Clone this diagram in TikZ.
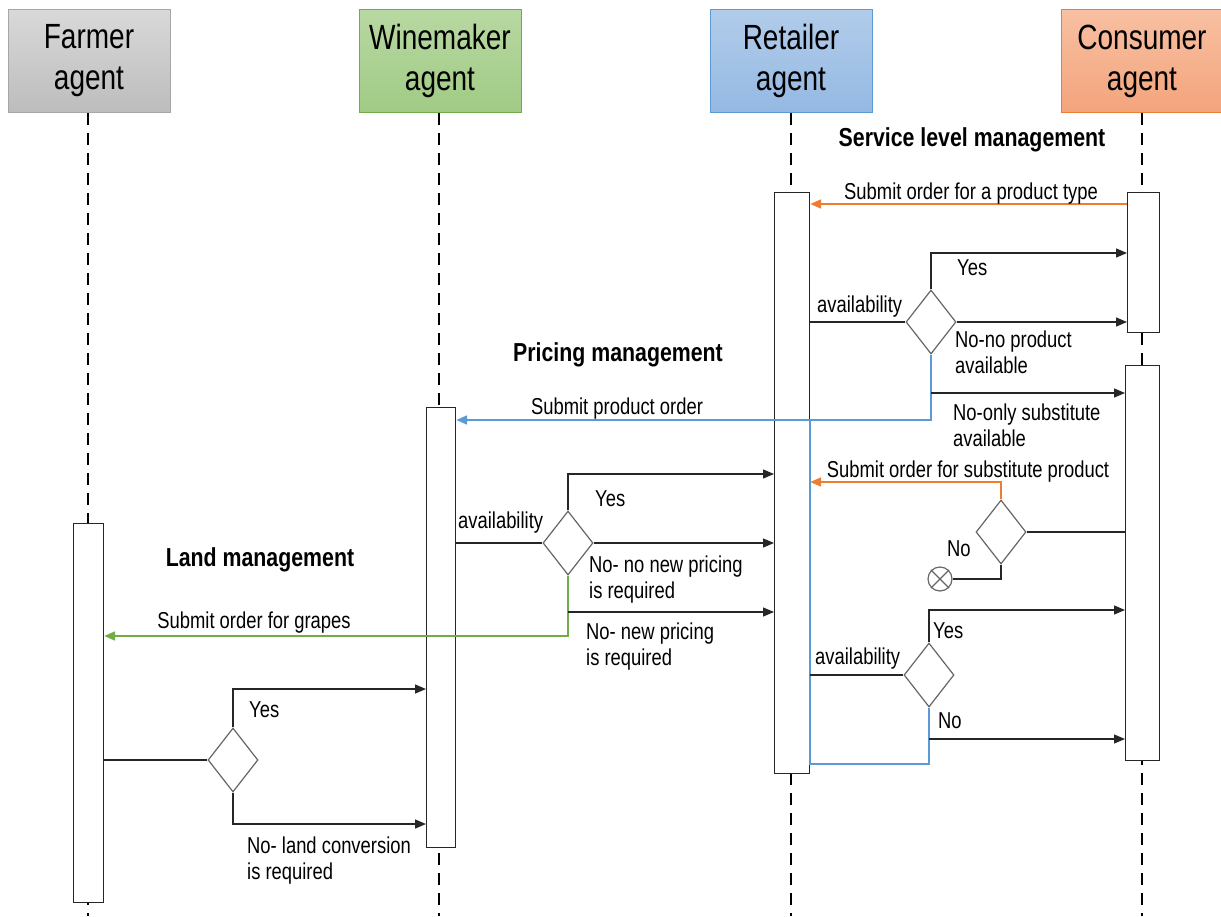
\documentclass[tikz,border=0pt]{standalone}
\usepackage{fontspec}
\setmainfont{Liberation Sans}
\newfontfamily\nf[FakeStretch=0.8]{Liberation Sans}
\newfontfamily\tf[FakeStretch=0.82]{Liberation Sans}
\usetikzlibrary{arrows.meta,shapes.geometric}
\definecolor{ogr}{HTML}{ED7D31}
\definecolor{bgr}{HTML}{5B9BD5}
\definecolor{ggr}{HTML}{70AD47}
\definecolor{dgray}{HTML}{666666}
\tikzset{
  hdr/.style={draw, line width=1pt, minimum width=162pt, minimum height=103pt, inner sep=0pt,
    align=center, font=\nf\fontsize{35pt}{41pt}\selectfont},
  life/.style={line width=1.8pt, dash pattern=on 12pt off 8pt},
  act/.style={draw=black!85, line width=1.2pt, fill=white, inner sep=0pt, anchor=north west},
  dec/.style={diamond, draw=dgray, line width=1.2pt, fill=white, minimum width=50pt, minimum height=64pt, inner sep=0pt},
  lbl/.style={inner sep=0pt, font=\nf\fontsize{23pt}{26pt}\selectfont, align=left},
  ttl/.style={inner sep=0pt, font=\tf\bfseries\fontsize{26pt}{30pt}\selectfont},
  ln/.style={line width=1.3pt, draw=black!85},
  msg/.style={ln, -{Triangle[length=11pt,width=9pt]}},
  omsg/.style={line width=2pt, draw=ogr, -{Triangle[length=11pt,width=9pt]}},
  bmsg/.style={line width=2pt, draw=bgr, -{Triangle[length=11pt,width=9pt]}},
  gmsg/.style={line width=2pt, draw=ggr, -{Triangle[length=11pt,width=9pt]}},
}
\begin{document}
\begin{tikzpicture}[x=1pt,y=-1pt]
\useasboundingbox (0,0) rectangle (1221,916);
% headers
\node[hdr, draw=black!35, top color=black!15, bottom color=black!26] (hf) at (89,61) {Farmer\\agent};
\node[hdr, draw=ggr, top color={rgb,255:red,184;green,216;blue,162}, bottom color={rgb,255:red,160;green,203;blue,133}] (hw) at (440,61) {Winemaker\\agent};
\node[hdr, draw=bgr, top color={rgb,255:red,178;green,204;blue,234}, bottom color={rgb,255:red,148;green,185;blue,227}] (hr) at (791,61) {Retailer\\agent};
\node[hdr, draw=ogr, top color={rgb,255:red,248;green,192;blue,162}, bottom color={rgb,255:red,243;green,164;blue,124}] (hc) at (1142,61) {Consumer\\agent};
% lifelines
\coordinate (ef) at (88,916);
\coordinate (ew) at (439,916);
\coordinate (er) at (791,916);
\coordinate (ec) at (1142,916);
\draw[life] (hf.south -| ef) -- (ef);
\draw[life] (hw.south -| ew) -- (ew);
\draw[life] (hr.south -| er) -- (er);
\draw[life] (hc.south -| ec) -- (ec);
% activation boxes
\node[act, minimum width=30pt, minimum height=379pt] (fa) at (73,523) {};
\node[act, minimum width=29pt, minimum height=440pt] (wb) at (426,407) {};
\node[act, minimum width=35pt, minimum height=581pt] (ret) at (774,192) {};
\node[act, minimum width=32pt, minimum height=140pt] (cu) at (1127,192) {};
\node[act, minimum width=34pt, minimum height=395pt] (cl) at (1125,365) {};
% titles
\node[ttl, anchor=base] (t1) at (972,146) {Service level management};
\node[ttl, anchor=base] (t2) at (618,361) {Pricing management};
\node[ttl, anchor=base] (t3) at (260,566) {Land management};
% decisions
\node[dec] (d1) at (931,322) {};
\node[dec] (d2) at (568,543) {};
\node[dec] (d3) at (1001,532) {};
\node[dec] (d4) at (929,675) {};
\node[dec] (d5) at (233,760) {};
\node[circle, draw=dgray, line width=1.2pt, fill=white, minimum size=24pt, inner sep=0pt] (x) at (940,579) {};
\draw[dgray, line width=1.2pt] (x.north west) -- (x.south east) (x.north east) -- (x.south west);
% blue feedback path on retailer
\draw[line width=2pt, draw=bgr] (d4.south) |- (ret.east |- 0,764) -- (ret.east |- 0,420);
% messages
\draw[omsg] (cu.west |- 0,204) -- (ret.east |- 0,204);
\node[lbl, anchor=base] (l1) at (971,199) {Submit order for a product type};
% retailer availability 1
\draw[ln] (ret.east |- d1) -- (d1.west);
\draw[msg] (d1.north) |- (cu.west |- 0,253);
\draw[msg] (d1.east) -- (cu.west |- d1);
\draw[bmsg] (d1.south) |- (wb.east |- 0,420);
\draw[msg] (d1.south |- 0,393) -- (cl.west |- 0,393);
\node[lbl, anchor=base west] (l2) at (817,312) {availability};
\node[lbl, anchor=base west] (l3) at (957,275) {Yes};
\node[lbl, anchor=north west] (l4) at (955,331) {No-no product\\available};
\node[lbl, anchor=base] (l5) at (617,414) {Submit product order};
\node[lbl, anchor=north west] (l6) at (953,404) {No-only substitute\\available};
% substitute
\draw[omsg] (d3.north) |- (ret.east |- 0,482);
\draw[ln] (d3.east) -- (cl.west |- d3);
\draw[ln] (d3.south) |- (x.east);
\node[lbl, anchor=base] (l7) at (968,477) {Submit order for substitute product};
\node[lbl, anchor=base west] (l8) at (947,556) {No};
% winemaker availability
\draw[ln] (wb.east |- d2) -- (d2.west);
\draw[msg] (d2.north) |- (ret.west |- 0,474);
\draw[msg] (d2.east) -- (ret.west |- d2);
\draw[gmsg] (d2.south) |- (fa.east |- 0,636);
\draw[msg] (d2.south |- 0,612) -- (ret.west |- 0,612);
\node[lbl, anchor=base west] (l9) at (458,528) {availability};
\node[lbl, anchor=base west] (l10) at (595,506) {Yes};
\node[lbl, anchor=north west] (l11) at (589,556) {No- no new pricing\\is required};
\node[lbl, anchor=base] (l12) at (254,628) {Submit order for grapes};
\node[lbl, anchor=north west] (l13) at (586,623) {No- new pricing\\is required};
% retailer availability 2
\draw[ln] (ret.east |- d4) -- (d4.west);
\draw[msg] (d4.north) |- (cl.west |- 0,610);
\draw[msg] (d4.south |- 0,739) -- (cl.west |- 0,739);
\node[lbl, anchor=base west] (l14) at (815,664) {availability};
\node[lbl, anchor=base west] (l15) at (933,638) {Yes};
\node[lbl, anchor=base west] (l16) at (938,728) {No};
% farmer
\draw[ln] (fa.east |- d5) -- (d5.west);
\draw[msg] (d5.north) |- (wb.west |- 0,689);
\draw[msg] (d5.south) |- (wb.west |- 0,824);
\node[lbl, anchor=base west] (l17) at (249,717) {Yes};
\node[lbl, anchor=north west] (l18) at (247,837) {No- land conversion\\is required};
\end{tikzpicture}
\end{document}
